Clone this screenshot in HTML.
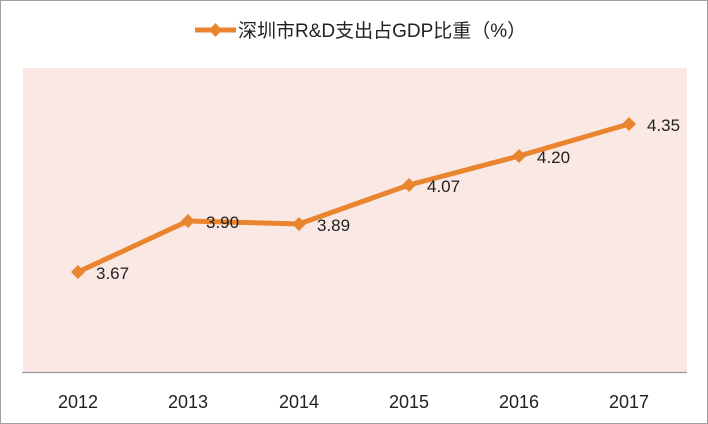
<!DOCTYPE html>
<html><head><meta charset="utf-8"><style>
html,body{margin:0;padding:0;background:#fff}
svg{display:block}
text{font-family:"Liberation Sans","Noto Sans CJK SC",sans-serif}
</style></head><body>
<svg width="708" height="424" viewBox="0 0 708 424">
<rect x="0.5" y="0.5" width="707" height="423" fill="#fff" stroke="#a0a0a0"/>
<rect x="23" y="68" width="664" height="304" fill="#f9e8e4"/>
<line x1="22" y1="372.5" x2="687" y2="372.5" stroke="#9a9a9a" stroke-width="1.2"/>
<line x1="195" y1="30" x2="236" y2="30" stroke="#e8852e" stroke-width="5"/>
<path d="M215.5 23 L222 30 L215.5 37 L209 30Z" fill="#e8852e"/>
<text x="238" y="37" font-size="19" fill="#222">深圳市R&amp;D支出占GDP比重（%）</text>
<polyline points="78,272 188,221 299,224 409,185 519,156 629,124" fill="none" stroke="#e8852e" stroke-width="5" stroke-linejoin="round"/>
<g fill="#e8852e">
<path d="M78 265l7 7-7 7-7-7z"/><path d="M188 214l7 7-7 7-7-7z"/><path d="M299 217l7 7-7 7-7-7z"/>
<path d="M409 178l7 7-7 7-7-7z"/><path d="M519 149l7 7-7 7-7-7z"/><path d="M629 117l7 7-7 7-7-7z"/>
</g>
<g font-size="17" fill="#222">
<text x="96" y="279">3.67</text><text x="206" y="228">3.90</text><text x="317" y="231">3.89</text>
<text x="427" y="192">4.07</text><text x="537" y="163">4.20</text><text x="647" y="131">4.35</text>
</g>
<g font-size="18" fill="#222" text-anchor="middle">
<text x="78" y="408">2012</text><text x="188" y="408">2013</text><text x="299" y="408">2014</text>
<text x="409" y="408">2015</text><text x="519" y="408">2016</text><text x="629" y="408">2017</text>
</g>
</svg>
</body></html>
